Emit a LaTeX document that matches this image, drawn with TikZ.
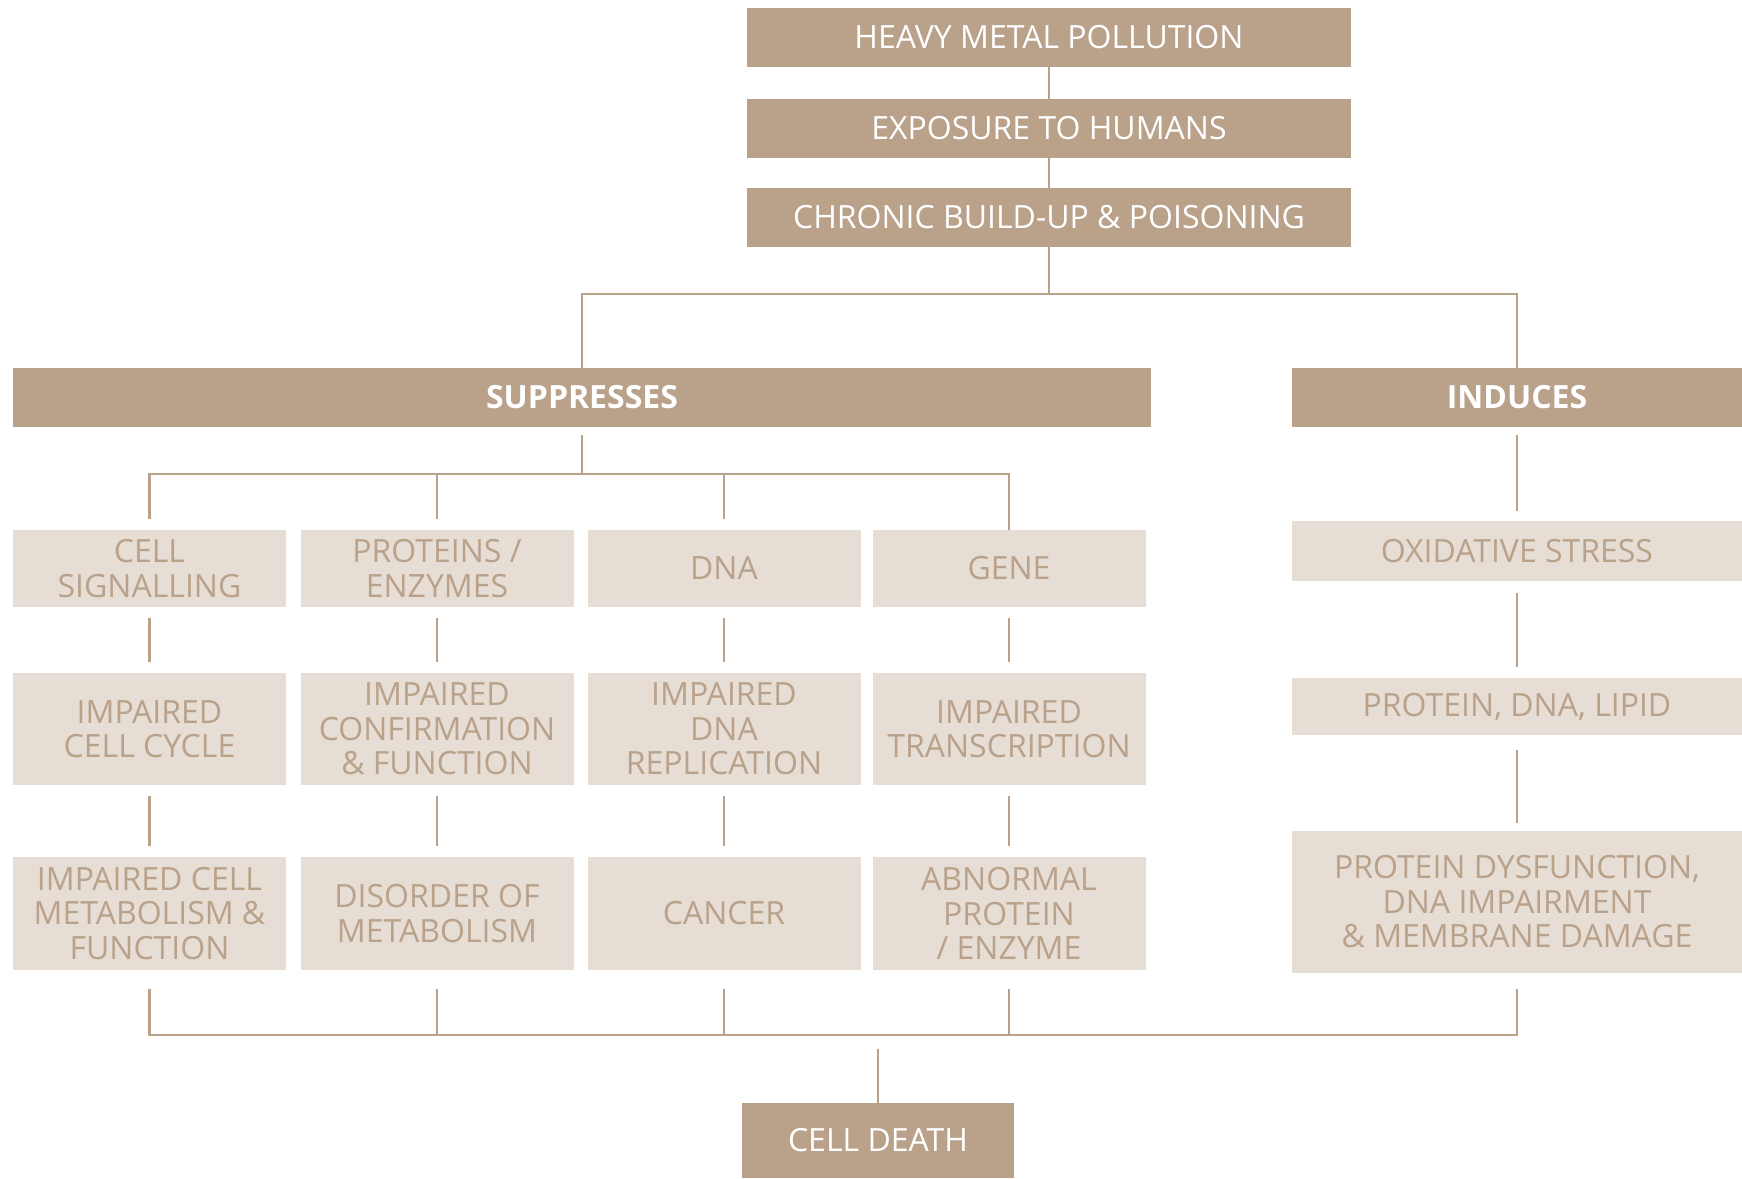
\documentclass[tikz,border=0pt]{standalone}
\usepackage{fontspec}
\setmainfont{Open Sans}
\definecolor{dark}{HTML}{B9A18A}
\definecolor{light}{HTML}{E6DDD4}
\begin{document}
\begin{tikzpicture}[x=1pt,y=-1pt,
  darkbox/.style={fill=dark,draw=none,text=white,inner sep=0pt,align=center,
    font=\fontsize{32}{34.5}\selectfont},
  lightbox/.style={fill=light,draw=none,text=dark,inner sep=0pt,align=center,
    font=\fontsize{32}{34.5}\selectfont},
  conn/.style={draw=dark,line width=2.4pt}]
\useasboundingbox (0,0) rectangle (1742,1178);
% top chain
\node[darkbox,minimum width=604pt,minimum height=59pt] (heavy) at (1049,37.5) {HEAVY METAL POLLUTION};
\node[darkbox,minimum width=604pt,minimum height=59pt] (expo) at (1049,128.5) {EXPOSURE TO HUMANS};
\node[darkbox,minimum width=604pt,minimum height=59pt] (chronic) at (1049,217.5) {CHRONIC BUILD-UP \& POISONING};
% category bars
\node[darkbox,minimum width=1138pt,minimum height=59pt,font=\fontsize{32}{34.5}\selectfont\bfseries] (sup) at (582,397.5) {SUPPRESSES};
\node[darkbox,minimum width=450pt,minimum height=59pt,font=\fontsize{32}{34.5}\selectfont\bfseries] (ind) at (1517,397.5) {INDUCES};
% row 1
\node[lightbox,minimum width=273pt,minimum height=77pt] (a1) at (149.5,568.5) {CELL\\SIGNALLING};
\node[lightbox,minimum width=273pt,minimum height=77pt] (b1) at (437,568.5) {PROTEINS /\\ENZYMES};
\node[lightbox,minimum width=273pt,minimum height=77pt] (c1) at (724,568.5) {DNA};
\node[lightbox,minimum width=273pt,minimum height=77pt] (d1) at (1009,568.5) {GENE};
% row 2
\node[lightbox,minimum width=273pt,minimum height=112pt] (a2) at (149.5,729) {IMPAIRED\\CELL CYCLE};
\node[lightbox,minimum width=273pt,minimum height=112pt] (b2) at (437,729) {IMPAIRED\\CONFIRMATION\\\& FUNCTION};
\node[lightbox,minimum width=273pt,minimum height=112pt] (c2) at (724,729) {IMPAIRED\\DNA\\REPLICATION};
\node[lightbox,minimum width=273pt,minimum height=112pt] (d2) at (1009,729) {IMPAIRED\\TRANSCRIPTION};
% row 3
\node[lightbox,minimum width=273pt,minimum height=113pt] (a3) at (149.5,913.5) {IMPAIRED CELL\\METABOLISM \&\\FUNCTION};
\node[lightbox,minimum width=273pt,minimum height=113pt] (b3) at (437,913.5) {DISORDER OF\\METABOLISM};
\node[lightbox,minimum width=273pt,minimum height=113pt] (c3) at (724,913.5) {CANCER};
\node[lightbox,minimum width=273pt,minimum height=113pt] (d3) at (1009,913.5) {ABNORMAL\\PROTEIN\\/ ENZYME};
% right column
\node[lightbox,minimum width=450pt,minimum height=60pt] (ox) at (1517,551) {OXIDATIVE STRESS};
\node[lightbox,minimum width=450pt,minimum height=57pt] (pdl) at (1517,706.5) {PROTEIN, DNA, LIPID};
\node[lightbox,minimum width=450pt,minimum height=142pt] (pd) at (1517,902) {PROTEIN DYSFUNCTION,\\DNA IMPAIRMENT\\\& MEMBRANE DAMAGE};
% cell death
\node[darkbox,minimum width=272pt,minimum height=75pt] (cd) at (878,1140.5) {CELL DEATH};
% junctions
\coordinate (jtop) at (1049,294);
\coordinate (jsup) at (582,474);
\coordinate (jbot) at (878,1035);
% connectors
\draw[conn] (heavy) -- (expo);
\draw[conn] (expo) -- (chronic);
\draw[conn] (chronic) -- (jtop);
\draw[conn] (sup.north) |- (jtop) -| (ind.north);
\draw[conn,shorten <=8pt] (sup.south) -- (jsup);
\draw[conn,shorten <=11pt] (a1.north) |- (jsup) -| (d1.north) ;
\draw[conn,shorten <=11pt] (b1.north) -- (b1.north |- jsup);
\draw[conn,shorten <=11pt] (c1.north) -- (c1.north |- jsup);
\foreach \u/\v in {a1/a2,b1/b2,c1/c2,d1/d2,a2/a3,b2/b3,c2/c3,d2/d3}
  \draw[conn,shorten <=11pt,shorten >=11pt] (\u.south) -- (\v.north);
\draw[conn,shorten <=8pt,shorten >=10pt] (ind.south) -- (ox.north);
\draw[conn,shorten <=12pt,shorten >=11pt] (ox.south) -- (pdl.north);
\draw[conn,shorten <=15pt,shorten >=8pt] (pdl.south) -- (pd.north);
\draw[conn,shorten <=19pt] (a3.south) |- (jbot);
\draw[conn,shorten <=16pt] (pd.south) |- (jbot);
\draw[conn,shorten <=19pt] (b3.south) -- (b3.south |- jbot);
\draw[conn,shorten <=19pt] (c3.south) -- (c3.south |- jbot);
\draw[conn,shorten <=19pt] (d3.south) -- (d3.south |- jbot);
\draw[conn,shorten >=14pt] (cd.north) -- (jbot);
\end{tikzpicture}
\end{document}
